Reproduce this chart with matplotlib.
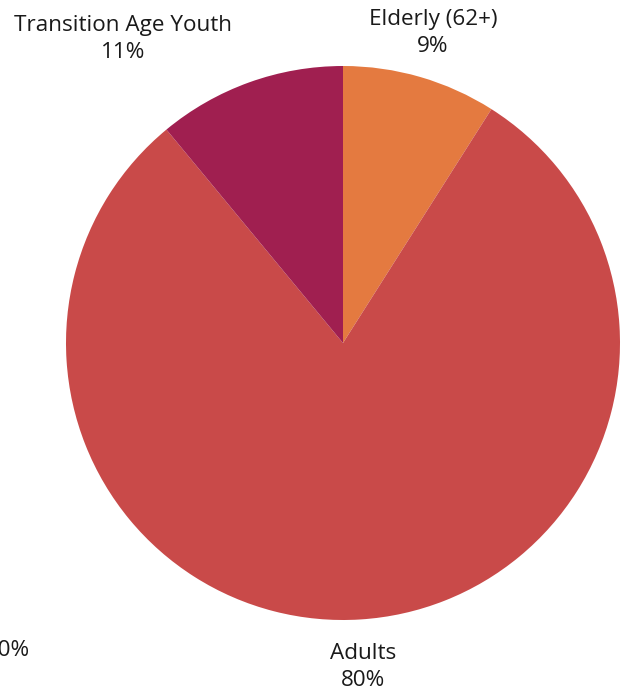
import matplotlib
matplotlib.use("Agg")
import matplotlib.pyplot as plt

plt.rcParams['font.family'] = ['Open Sans', 'DejaVu Sans']

# Household age groups and their shares (percent)
categories = ["Elderly (62+)", "Adults", "Transition Age Youth", "Children"]
shares = [9, 80, 11, 0]
colors = ["#E47A40", "#C94A49", "#A01F50", "#D9A0B0"]

W, H = 629, 692
fig = plt.figure(figsize=(W / 100, H / 100), dpi=100)
ax = fig.add_axes([0, 0, 1, 1])
ax.set_xlim(0, W)
ax.set_ylim(0, H)
ax.set_aspect('equal')
ax.axis('off')

# Only non-zero groups get a wedge
drawn = [(c, s, col) for c, s, col in zip(categories, shares, colors) if s > 0]
ax.pie([d[1] for d in drawn], colors=[d[2] for d in drawn],
       startangle=90, counterclock=False, center=(343, H - 343), radius=277,
       wedgeprops=dict(linewidth=0))
ax.set_xlim(0, W)
ax.set_ylim(0, H)

label_pos = {
    "Elderly (62+)": (433, H - 33),
    "Adults": (363, H - 667),
    "Transition Age Youth": (123, H - 39),
}
for cat, s in zip(categories, shares):
    if cat in label_pos:
        x, y = label_pos[cat]
        ax.text(x, y, f"{cat}\n{s}%", ha='center', va='center', fontsize=16.2,
                linespacing=1.35, color='#1a1a1a')
    else:
        ax.text(29, H - 650, f"{cat} {s}%", ha='right', va='center',
                fontsize=16.2, color='#1a1a1a')

fig.savefig("out.png", dpi=100)
